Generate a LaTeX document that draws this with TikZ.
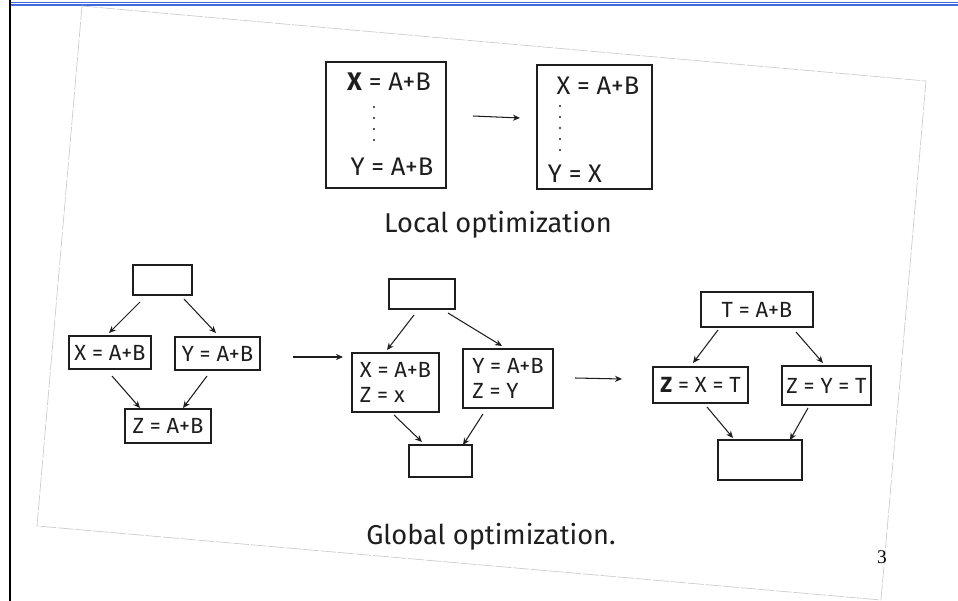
\documentclass[tikz,border=0pt]{standalone}
\usepackage{fontspec}
\setmainfont{Fira Sans}
\newfontfamily\numfont{Liberation Serif}
\usetikzlibrary{arrows.meta,calc}
\definecolor{ink}{RGB}{30,30,30}
\definecolor{rule}{RGB}{64,104,224}
\tikzset{
    every node/.style={inner sep=0pt, outer sep=0pt, text=ink,
    	font=\fontsize{12.5}{14}\selectfont}
}
\tikzset{
    box/.style={rectangle, draw=ink, line width=0.7pt, align=left},
    big/.style={font=\fontsize{14.5}{16}\selectfont},
    caption/.style={font=\fontsize{15.5}{18}\selectfont}
}
\tikzset{
    every edge/.append style={draw=ink, line width=0.6pt,
    	-{Stealth[length=4pt,width=3.5pt]}}
}

\begin{document}
\begin{tikzpicture}[x=0.02cm, y=-0.02cm]
	\useasboundingbox (0,0) rectangle (958,601);
	% slide frame and scanned sheet
	\draw[rule, line width=0.8pt] (11,2.3) -- (958,2.3);
	\draw[rule, line width=0.8pt] (11,4.9) -- (958,4.9);
	\draw[black, line width=1.1pt] (10,0) -- (10,601);
	\draw[gray!40, line width=0.4pt, dash pattern=on 9pt off 1pt]
		(82,6) -- (926,81) -- (881,600) -- (37,526) -- cycle;
	\node (pg) [font=\numfont\fontsize{11}{13}\selectfont, text=black] at (882,557) {3};

	% local optimization
	\node (l1) [box, minimum width=2.40cm, minimum height=2.52cm] at (386,125) {};
	\node (l1x) [big] at (389,82) {\textbf{X} = A+B};
	\node (l1y) [big] at (392,167) {Y = A+B};
	\foreach \y in {107,118,129,140} \fill[ink] (374,\y) circle[radius=0.6pt];
	\node (l2) [box, minimum width=2.30cm, minimum height=2.48cm] at (594.5,127) {};
	\node (l2x) [big] at (598,86) {X = A+B};
	\node (l2y) [big] at (575,174) {Y = X};
	\foreach \y in {106,117,128,139,150} \fill[ink] (560,\y) circle[radius=0.6pt];
	\coordinate (la) at (473,116); \coordinate (lb) at (520,118);
	\draw (la) edge (lb);
	\node (lcap) [caption] at (498,225) {Local optimization};

	% global: before
	\node (g1top) [box, minimum width=1.18cm, minimum height=0.60cm] at (162.5,280) {};
	\node (g1x) [box, minimum width=1.64cm, minimum height=0.66cm] at (110,352.5) {X = A+B};
	\node (g1y) [box, minimum width=1.70cm, minimum height=0.66cm] at (217.5,353.5) {Y = A+B};
	\node (g1z) [box, minimum width=1.72cm, minimum height=0.68cm] at (168,426) {Z = A+B};
	\draw ($(g1top.south)+(-22.5,7)$) edge ($(g1x.north)+(-1,-3)$);
	\draw ($(g1top.south)+(21.5,4)$) edge ($(g1y.north)+(-1.5,-4)$);
	\draw ($(g1x.south)+(2,7)$) edge ($(g1z.north)+(-28,-1)$);
	\draw ($(g1y.south)+(-10.5,6)$) edge ($(g1z.north)+(15,-1)$);
	\coordinate (ga) at (293,357); \coordinate (gb) at (343,357);
	\draw (ga) edge (gb);

	% global: copies
	\node (g2top) [box, minimum width=1.32cm, minimum height=0.60cm] at (422,294) {};
	\node (g2x) [box, minimum width=1.74cm, minimum height=1.18cm] at (395.5,382.5) {X = A+B\\Z = x};
	\node (g2y) [box, minimum width=1.80cm, minimum height=1.18cm] at (508,378.5) {Y = A+B\\Z = Y};
	\node (g2bot) [box, minimum width=1.26cm, minimum height=0.64cm] at (440.5,461) {};
	\draw ($(g2top.south)+(-8,6)$) edge ($(g2x.north)+(-8.5,-3)$);
	\draw ($(g2top.south)+(26,4)$) edge ($(g2y.north)+(-6,-3)$);
	\draw ($(g2x.south)+(-1.5,3)$) edge ($(g2bot.north)+(-18.5,-3)$);
	\draw ($(g2y.south)+(-25,6)$) edge ($(g2bot.north)+(22.5,0)$);
	\coordinate (gc) at (575,378); \coordinate (gd) at (622,379);
	\draw (gc) edge (gd);

	% global: temporary
	\node (g3top) [box, minimum width=2.24cm, minimum height=0.70cm] at (757,309.5) {T = A+B};
	\node (g3x) [box, minimum width=1.90cm, minimum height=0.72cm] at (700.5,385) {\textbf{Z} = X = T};
	\node (g3y) [box, minimum width=1.78cm, minimum height=0.78cm] at (826.5,385.5) {Z = Y = T};
	\node (g3bot) [box, minimum width=1.68cm, minimum height=0.80cm] at (760,460) {};
	\draw ($(g3top.south)+(-39,3)$) edge ($(g3x.north)+(-7.5,-4)$);
	\draw ($(g3top.south)+(39,5)$) edge ($(g3y.north)+(-3.5,-3)$);
	\draw ($(g3x.south)+(6.5,4)$) edge ($(g3bot.north)+(-27,-2)$);
	\draw ($(g3y.south)+(-18.5,3)$) edge ($(g3bot.north)+(30,0)$);
	\node (gcap) [caption] at (491,537) {Global optimization.};
\end{tikzpicture}
\end{document}
